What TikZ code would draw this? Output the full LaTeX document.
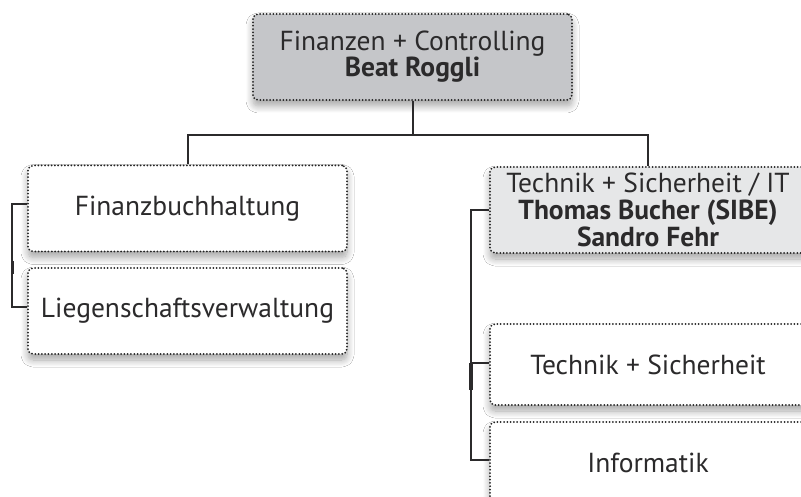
\documentclass[tikz,border=0pt]{standalone}
\usepackage{fontspec}
\setmainfont{PT Sans}
\usetikzlibrary{shadows.blur}
\definecolor{txt}{HTML}{2B2A2B}
\definecolor{topgray}{HTML}{C5C6C9}
\definecolor{lightgray}{HTML}{E6E7E8}
\definecolor{dotc}{HTML}{222222}
\tikzset{
  orgbox/.style={draw=dotc, line width=2pt, dash pattern=on 0pt off 3.3pt, line cap=round,
    rounded corners=5pt, minimum width=319pt, minimum height=86pt, align=center,
    text=txt, inner sep=0pt, fill=white,
    blur shadow={shadow xshift=0pt, shadow yshift=-6pt, shadow blur radius=7pt, shadow blur steps=10, shadow opacity=35},
    font=\fontsize{27.5}{26}\selectfont},
  conn/.style={draw=txt, line width=2pt},
}
\begin{document}
\begin{tikzpicture}[x=1pt,y=-1pt]
\useasboundingbox (0,0) rectangle (801,497);
\clip (0,0) rectangle (801,497);
\fill[white] (0,0) rectangle (801,497);
\node[orgbox, fill=topgray] (top) at (412.5,57) {Finanzen + Controlling\\[0pt]\textbf{Beat Roggli}};
\node[orgbox] (fb) at (187.5,208.5) {Finanzbuchhaltung};
\node[orgbox] (lv) at (187.5,311) {Liegenschaftsverwaltung};
\node[orgbox, fill=lightgray, minimum width=316pt] (tsit) at (648,210) {Technik + Sicherheit / IT\\[1pt]\textbf{Thomas Bucher (SIBE)}\\[1pt]\textbf{Sandro Fehr}};
\node[orgbox, minimum width=316pt, minimum height=81pt] (ts) at (648,364.5) {Technik + Sicherheit};
\node[orgbox, minimum width=316pt, minimum height=82pt] (inf) at (648,463) {Informatik};
% connectors
\draw[conn] (top.south) -- ++(0,34) coordinate (j);
\draw[conn] (fb.north) |- (j) -| (tsit.north);
\draw[conn] ([yshift=4.5pt]fb.west) -- ++(-15,0) coordinate (lc) |- ([yshift=4pt]lv.west);
\draw[conn] (tsit.west) -- ++(-18,0) coordinate (rc) |- ([yshift=3pt]inf.west);
\draw[conn] ([yshift=1.5pt]ts.west) -- ++(-18,0) coordinate (rm);
\draw[line width=3.2pt, draw=txt] (rm) -- ++(0,27);
\draw[line width=3pt, draw=txt] ([yshift=-57pt]lc) -- ++(0,13);
\end{tikzpicture}
\end{document}
